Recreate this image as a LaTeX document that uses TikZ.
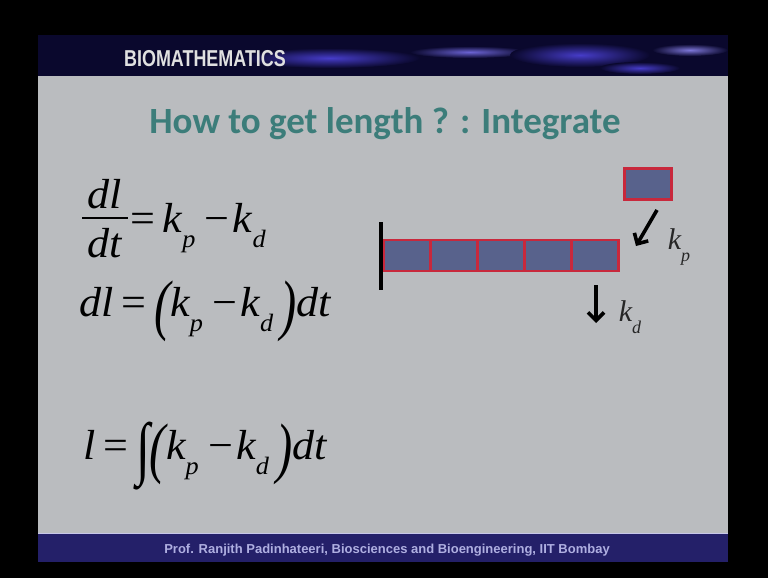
\documentclass[tikz,border=0pt]{standalone}
\usepackage{fontspec}
\usepackage{graphicx}
\setmainfont{Liberation Serif}
\newfontfamily\titlefont{Carlito}
\newfontfamily\bannerfont{Liberation Sans}
\usetikzlibrary{arrows.meta}
\definecolor{bannerblue}{RGB}{10,8,45}
\definecolor{streak}{RGB}{70,60,200}
\definecolor{slidegray}{RGB}{186,188,191}
\definecolor{footnavy}{RGB}{36,32,105}
\definecolor{foottext}{RGB}{175,175,225}
\definecolor{titleteal}{RGB}{60,125,122}
\definecolor{boxfill}{RGB}{88,98,140}
\definecolor{boxred}{RGB}{200,40,60}
\newcommand{\sub}[1]{\raisebox{-0.38em}{\fontsize{25}{27}\selectfont\itshape #1}}
\newcommand{\bigpar}[1]{\raisebox{-0.28em}{\scalebox{1.1}[1.6]{#1}}}
\newcommand{\mns}{\hspace{9pt}\upshape−\hspace{3pt}\itshape}
\newcommand{\eqs}{\hspace{8pt}\upshape=\hspace{7pt}\itshape}
\newcommand{\wide}[1]{\scalebox{1.05}[1]{#1}}
\tikzset{
  eq/.style={anchor=base west, inner sep=0pt, font=\fontsize{42}{46}\selectfont\itshape},
  unit/.style={draw=boxred, line width=2.4pt, fill=boxfill, minimum width=47pt, minimum height=31pt, inner sep=0pt},
  arr/.style={line width=3.6pt, -{Straight Barb[length=8pt,width=16pt,line width=3.6pt]}},
  klabel/.style={inner sep=0pt, font=\fontsize{30}{33}\selectfont\itshape, text=black!85}
}
\begin{document}
\begin{tikzpicture}[x=1pt,y=-1pt]
\fill[black] (0,0) rectangle (768,578);
\useasboundingbox (0,0) rectangle (768,578);
% banner
\fill[bannerblue] (38,35) rectangle (728,76);
\shade[inner color=streak, outer color=bannerblue] (330,58) ellipse (90 and 10);
\shade[inner color=streak!80!white, outer color=bannerblue] (470,52) ellipse (60 and 6);
\shade[inner color=streak, outer color=bannerblue] (580,55) ellipse (70 and 12);
\shade[inner color=streak!70!white, outer color=bannerblue] (690,50) ellipse (38 and 6);
\shade[inner color=streak, outer color=bannerblue] (640,68) ellipse (40 and 6);
\node[inner sep=0pt, text=black!12, font=\bannerfont\bfseries\fontsize{23}{26}\selectfont] (banner) at (205,59) {\scalebox{0.78}[1]{BIOMATHEMATICS}};
% slide
\fill[slidegray] (38,76) rectangle (728,533);
\fill[footnavy] (38,533) rectangle (728,562);
\draw[foottext!70!white, line width=1pt] (38,533) -- (728,533);
\node[inner sep=0pt, text=foottext, font=\bannerfont\bfseries\fontsize{13}{15}\selectfont] (foot) at (387,550) {Prof. Ranjith Padinhateeri, Biosciences and Bioengineering, IIT Bombay};
% title
\node[inner sep=0pt, text=titleteal, font=\titlefont\bfseries\fontsize{37}{40}\selectfont] (title) at (385,124) {How to get length ? : Integrate};
% equations
\node[eq, anchor=base] (num) at (105,208) {\wide{dl}};
\node[eq, anchor=base] (den) at (105,257) {\wide{dt}};
\draw[line width=1.4pt] (82,218) coordinate (fb1) -- (128,218) coordinate (fb2);
\node[eq] (eq1) at (122,232) {\wide{\eqs k\sub{p}\mns k\sub{d}}};
\node[eq] (eq2) at (79,316) {\wide{dl\eqs\bigpar{(}\itshape k\sub{p}\mns k\sub{d}\,\bigpar{)}\itshape dt}};
\node[eq] (eq3) at (83,459) {\wide{l\eqs\raisebox{-0.3em}{\scalebox{1.15}[1.65]{∫}}\bigpar{(}\itshape k\sub{p}\mns k\sub{d}\,\bigpar{)}\itshape dt}};
% filament
\node[unit] (b1) at (407,255.5) {};
\node[unit] (b2) at (454,255.5) {};
\node[unit] (b3) at (501,255.5) {};
\node[unit] (b4) at (548,255.5) {};
\node[unit] (b5) at (595,255.5) {};
\node[unit] (m) at (648,184) {};
\coordinate (wt) at (381,222);
\coordinate (wb) at (381,290);
\draw[line width=3.4pt] (wt) -- (wb);
\coordinate (pa) at (657,210);
\coordinate (pb) at (636,246);
\draw[arr] (pa) -- (pb);
\node[klabel] (kp) at (679,247) {k\raisebox{-0.38em}{\fontsize{18}{20}\selectfont p}};
\coordinate (da) at (596,285);
\coordinate (db) at (596,323);
\draw[arr] (da) -- (db);
\node[klabel] (kd) at (630,317) {k\raisebox{-0.38em}{\fontsize{18}{20}\selectfont d}};
\end{tikzpicture}
\end{document}
